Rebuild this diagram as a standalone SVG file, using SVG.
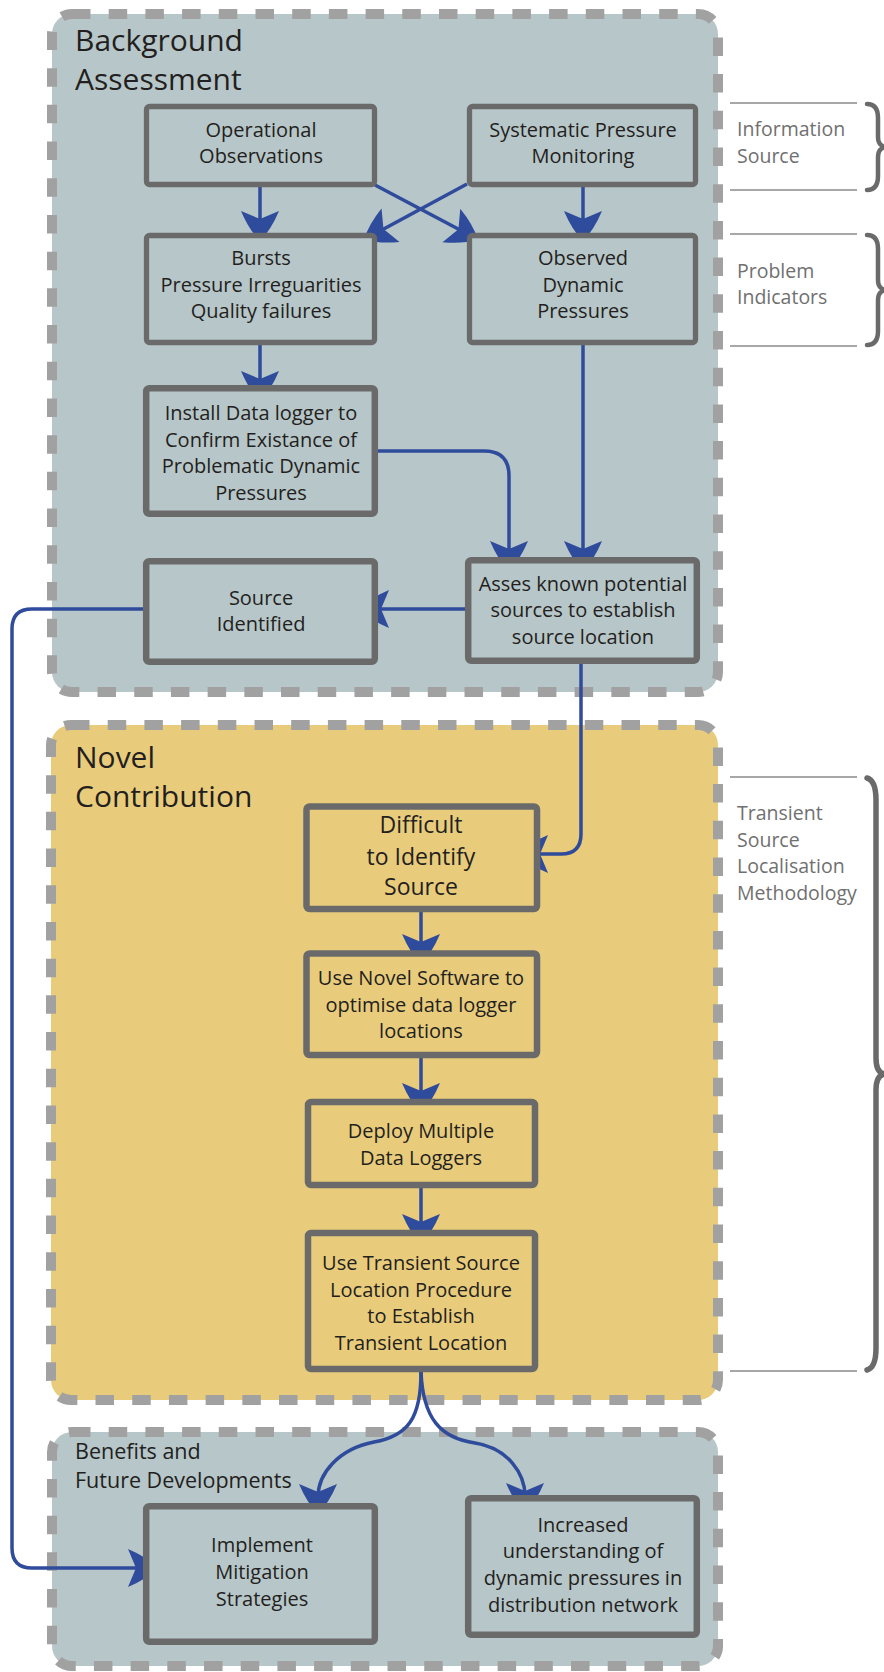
<svg xmlns="http://www.w3.org/2000/svg" width="884" height="1672" viewBox="0 0 884 1672">
<style>
.cont{stroke:#a1a1a1;stroke-width:10;stroke-dasharray:18.5 18.2}
.blue{fill:#b7c6c8}
.yel{fill:#e9cc7b}
.box{stroke:#6a6a6a;stroke-width:6.5}
.boxt{stroke:#6a6a6a;stroke-width:5.3}
.t{font-family:"Open Sans","Liberation Sans",sans-serif;font-size:20px;fill:#231f20;text-anchor:middle}
.tb{font-size:23px}
.title{font-family:"Open Sans","Liberation Sans",sans-serif;font-size:30px;fill:#231f20}
.sub{font-size:21.5px}
.ann{font-family:"Open Sans","Liberation Sans",sans-serif;font-size:19.5px;fill:#707070}
.aline{stroke:#8a8a8a;stroke-width:1.3;fill:none}
.brace{stroke:#6a6a6a;stroke-width:4.5;fill:none;stroke-linecap:round;stroke-linejoin:round}
.conn{stroke:#2f4b9c;stroke-width:3.5;fill:none}
.head{fill:#2f4b9c;stroke:none}
</style>
<defs>
<path id="ah" d="M1,0 Q-10,-11 -29,-19 L-21,0 L-29,19 Q-10,11 1,0 Z"/>
</defs>
<rect width="884" height="1672" fill="#ffffff"/>

<g id="container-background">
<rect x="52" y="14" width="666" height="678" rx="20" class="cont blue"/>
<text class="title" x="75" y="51">Background</text>
<text class="title" x="75" y="90">Assessment</text>
</g>
<g id="container-novel">
<rect x="51" y="725" width="667" height="675" rx="20" class="cont yel"/>
<text class="title" x="75" y="768">Novel</text>
<text class="title" x="75" y="807">Contribution</text>
</g>
<g id="container-benefits">
<rect x="52" y="1432" width="666" height="234" rx="20" class="cont blue"/>
<text class="title sub" x="75" y="1459">Benefits and</text>
<text class="title sub" x="75" y="1488">Future Developments</text>
</g>

<g id="annotations">
<line class="aline" x1="730" y1="103" x2="857" y2="103"/>
<line class="aline" x1="730" y1="190" x2="857" y2="190"/>
<line class="aline" x1="730" y1="234" x2="857" y2="234"/>
<line class="aline" x1="730" y1="346" x2="857" y2="346"/>
<line class="aline" x1="730" y1="777" x2="857" y2="777"/>
<line class="aline" x1="730" y1="1371" x2="857" y2="1371"/>
<text class="ann" x="737" y="136">Information</text>
<text class="ann" x="737" y="163">Source</text>
<text class="ann" x="737" y="278">Problem</text>
<text class="ann" x="737" y="304">Indicators</text>
<text class="ann" x="737" y="820">Transient</text>
<text class="ann" x="737" y="847">Source</text>
<text class="ann" x="737" y="873">Localisation</text>
<text class="ann" x="737" y="900">Methodology</text>
<path class="brace" d="M867,104 C875,104 878,109 878,118 L878,137 C878,143 881,147 887,147 M887,147 C881,147 878,151 878,157 L878,176 C878,185 875,190 867,190"/>
<path class="brace" d="M867,235 C875,235 878,240 878,249 L878,280 C878,286 881,290 887,290 M887,290 C881,290 878,294 878,300 L878,331 C878,340 875,345 867,345"/>
<path class="brace" style="stroke-width:5.5" d="M867,778 C874,780 876,788 876,800 L876,1058 C876,1068 879,1074 886,1074 M886,1074 C879,1074 876,1080 876,1090 L876,1348 C876,1360 874,1368 867,1370"/>
</g>

<g id="connectors">
<path class="conn" d="M260,187 L260,224"/>
<use href="#ah" class="head" transform="translate(260,240) rotate(90)"/>
<path class="conn" d="M583,187 L583,224"/>
<use href="#ah" class="head" transform="translate(583,240) rotate(90)"/>
<path class="conn" d="M375,185 L462,231"/>
<use href="#ah" class="head" transform="translate(477,239) rotate(27.9)"/>
<path class="conn" d="M467,184 L380,231"/>
<use href="#ah" class="head" transform="translate(365,239) rotate(151.7)"/>
<path class="conn" d="M260,345 L260,384"/>
<use href="#ah" class="head" transform="translate(260,400) rotate(90)"/>
<path class="conn" d="M378,451 L484,451 Q509,451 509,476 L509,554"/>
<use href="#ah" class="head" transform="translate(509,570) rotate(90)"/>
<path class="conn" d="M583,345 L583,554"/>
<use href="#ah" class="head" transform="translate(583,570) rotate(90)"/>
<path class="conn" d="M467,609 L376,609"/>
<use href="#ah" class="head" transform="translate(360,609) rotate(180)"/>
<path class="conn" d="M145,609 L32,609 Q12,609 12,629 L12,1548 Q12,1568 32,1568 L141,1568"/>
<use href="#ah" class="head" transform="translate(157,1568)"/>
<path class="conn" d="M581,664 L581,834 Q581,854 561,854 L535,854"/>
<use href="#ah" class="head" transform="translate(519,854) rotate(180)"/>
<path class="conn" d="M421,912 L421,947"/>
<use href="#ah" class="head" transform="translate(421,963) rotate(90)"/>
<path class="conn" d="M421,1058 L421,1096"/>
<use href="#ah" class="head" transform="translate(421,1112) rotate(90)"/>
<path class="conn" d="M421,1188 L421,1227"/>
<use href="#ah" class="head" transform="translate(421,1243) rotate(90)"/>
<path class="conn" d="M421,1372 C421,1418 408,1436 374,1442 C338,1449 318,1474 318,1497"/>
<use href="#ah" class="head" transform="translate(318,1513) rotate(90)"/>
<path class="conn" d="M421,1372 C423,1418 440,1438 475,1443 C508,1448 525,1474 525,1496"/>
<use href="#ah" class="head" transform="translate(525,1512) rotate(90)"/>
</g>

<g id="node-operational">
<rect x="146.5" y="106.5" width="228" height="78" rx="3" class="boxt blue"/>
<text class="t" x="261" y="137">Operational</text>
<text class="t" x="261" y="163">Observations</text>
</g>
<g id="node-systematic">
<rect x="469.5" y="106.5" width="226" height="78" rx="3" class="boxt blue"/>
<text class="t" x="583" y="137">Systematic Pressure</text>
<text class="t" x="583" y="163">Monitoring</text>
</g>
<g id="node-bursts">
<rect x="146.5" y="235.5" width="228" height="107" rx="3" class="boxt blue"/>
<text class="t" x="261" y="265">Bursts</text>
<text class="t" x="261" y="291.5">Pressure Irreguarities</text>
<text class="t" x="261" y="318">Quality failures</text>
</g>
<g id="node-observed">
<rect x="469.5" y="235.5" width="226" height="107" rx="3" class="boxt blue"/>
<text class="t" x="583" y="265">Observed</text>
<text class="t" x="583" y="291.5">Dynamic</text>
<text class="t" x="583" y="318">Pressures</text>
</g>
<g id="node-install">
<rect x="146.2" y="388.2" width="228.6" height="125.6" rx="3" class="box blue"/>
<text class="t" x="261" y="420">Install Data logger to</text>
<text class="t" x="261" y="446.5">Confirm Existance of</text>
<text class="t" x="261" y="473">Problematic Dynamic</text>
<text class="t" x="261" y="499.5">Pressures</text>
</g>
<g id="node-source-identified">
<rect x="146.2" y="561.2" width="228.6" height="100.6" rx="3" class="box blue"/>
<text class="t" x="261" y="605">Source</text>
<text class="t" x="261" y="631">Identified</text>
</g>
<g id="node-asses">
<rect x="468.2" y="560.2" width="228.6" height="100.6" rx="3" class="box blue"/>
<text class="t" x="583" y="591">Asses known potential</text>
<text class="t" x="583" y="617">sources to establish</text>
<text class="t" x="583" y="644">source location</text>
</g>
<g id="node-difficult">
<rect x="306.5" y="806.5" width="230.5" height="102.5" rx="3" class="box yel"/>
<text class="t tb" x="421" y="833">Difficult</text>
<text class="t tb" x="421" y="865">to Identify</text>
<text class="t tb" x="421" y="895">Source</text>
</g>
<g id="node-novel-software">
<rect x="306.5" y="953.5" width="230.5" height="101.5" rx="3" class="box yel"/>
<text class="t" x="421" y="985">Use Novel Software to</text>
<text class="t" x="421" y="1012">optimise data logger</text>
<text class="t" x="421" y="1038">locations</text>
</g>
<g id="node-deploy">
<rect x="308" y="1102" width="227" height="83" rx="3" class="box yel"/>
<text class="t" x="421" y="1138">Deploy Multiple</text>
<text class="t" x="421" y="1165">Data Loggers</text>
</g>
<g id="node-transient">
<rect x="308" y="1233" width="227" height="136" rx="3" class="box yel"/>
<text class="t" x="421" y="1270">Use Transient Source</text>
<text class="t" x="421" y="1297">Location Procedure</text>
<text class="t" x="421" y="1323">to Establish</text>
<text class="t" x="421" y="1350">Transient Location</text>
</g>
<g id="node-implement">
<rect x="146.2" y="1506.2" width="228.6" height="135.6" rx="3" class="box blue"/>
<text class="t" x="262" y="1552">Implement</text>
<text class="t" x="262" y="1579">Mitigation</text>
<text class="t" x="262" y="1606">Strategies</text>
</g>
<g id="node-increased">
<rect x="468.2" y="1498.2" width="228.6" height="136.6" rx="3" class="box blue"/>
<text class="t" x="583" y="1532">Increased</text>
<text class="t" x="583" y="1558">understanding of</text>
<text class="t" x="583" y="1585">dynamic pressures in</text>
<text class="t" x="583" y="1612">distribution network</text>
</g>
</svg>
